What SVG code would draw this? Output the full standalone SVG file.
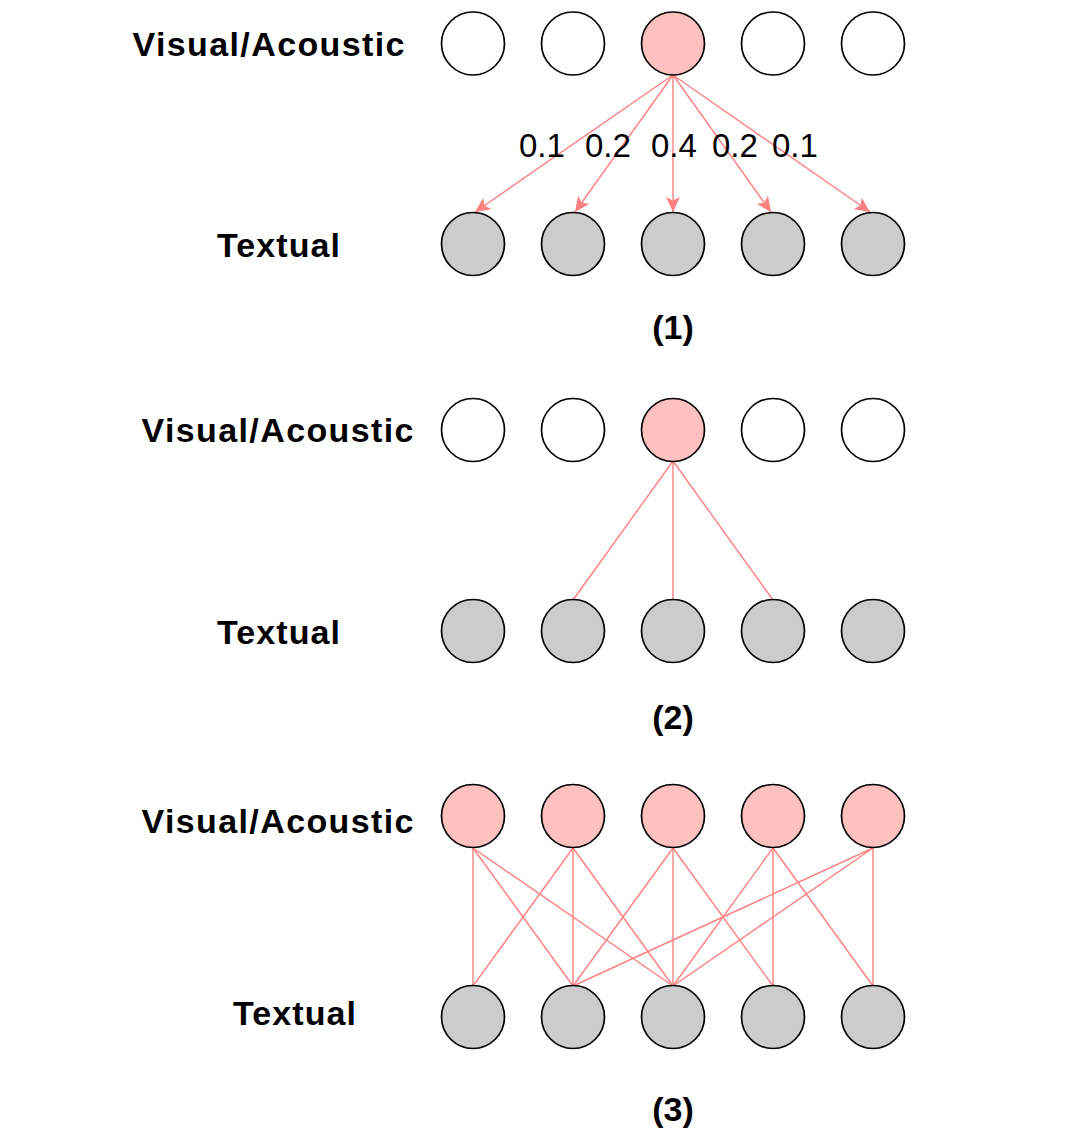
<svg xmlns="http://www.w3.org/2000/svg" width="1068" height="1144" viewBox="0 0 1068 1144">
<style>
.v{fill:#ffffff;stroke:#000;stroke-width:1.7}
.p{fill:#ffc0c0;stroke:#000;stroke-width:1.7}
.t{fill:#cccccc;stroke:#000;stroke-width:1.7}
.e{stroke:#ff8080;stroke-width:1.4;fill:none}
.lbl{font-family:"Liberation Sans",Arial,sans-serif;font-weight:bold;font-size:34px;fill:#000}
.w{font-family:"Liberation Sans",Arial,sans-serif;font-size:33px;fill:#000}
</style>
<defs>
<marker id="ah" markerUnits="userSpaceOnUse" markerWidth="16" markerHeight="14" viewBox="0 0 16 14" refX="15" refY="7" orient="auto">
<path d="M0,0 L15,7 L0,14 L3.5,7 Z" fill="#ff8080"/>
</marker>
</defs>
<rect width="1068" height="1144" fill="#fff"/>

<g id="connectors">
<g id="edges-1">
<line class="e" x1="673" y1="75" x2="475" y2="212" marker-end="url(#ah)"/>
<line class="e" x1="673" y1="75" x2="575" y2="212" marker-end="url(#ah)"/>
<line class="e" x1="673" y1="75" x2="673" y2="212" marker-end="url(#ah)"/>
<line class="e" x1="673" y1="75" x2="771" y2="212" marker-end="url(#ah)"/>
<line class="e" x1="673" y1="75" x2="870" y2="212" marker-end="url(#ah)"/>
</g>
<g id="edges-2">
<line class="e" x1="673" y1="461" x2="573" y2="600"/>
<line class="e" x1="673" y1="461" x2="673" y2="600"/>
<line class="e" x1="673" y1="461" x2="773" y2="600"/>
</g>
<g id="edges-3">
<line class="e" x1="473" y1="848" x2="473" y2="986"/>
<line class="e" x1="473" y1="848" x2="573" y2="986"/>
<line class="e" x1="473" y1="848" x2="673" y2="986"/>
<line class="e" x1="573" y1="848" x2="473" y2="986"/>
<line class="e" x1="573" y1="848" x2="573" y2="986"/>
<line class="e" x1="573" y1="848" x2="673" y2="986"/>
<line class="e" x1="673" y1="848" x2="573" y2="986"/>
<line class="e" x1="673" y1="848" x2="673" y2="986"/>
<line class="e" x1="673" y1="848" x2="773" y2="986"/>
<line class="e" x1="773" y1="848" x2="673" y2="986"/>
<line class="e" x1="773" y1="848" x2="773" y2="986"/>
<line class="e" x1="773" y1="848" x2="873" y2="986"/>
<line class="e" x1="873" y1="848" x2="573" y2="986"/>
<line class="e" x1="873" y1="848" x2="673" y2="986"/>
<line class="e" x1="873" y1="848" x2="873" y2="986"/>
</g>
</g>

<g id="weights">
<text class="w" x="519" y="157">0.1</text>
<text class="w" x="585" y="157">0.2</text>
<text class="w" x="651" y="157">0.4</text>
<text class="w" x="712" y="157">0.2</text>
<text class="w" x="772" y="157">0.1</text>
</g>

<g id="panel-1">
<g id="va-label-1"><text class="lbl" x="268.5" y="56" text-anchor="middle" textLength="272" lengthAdjust="spacing">Visual/Acoustic</text></g>
<g id="t-label-1"><text class="lbl" x="278.5" y="257" text-anchor="middle" textLength="123" lengthAdjust="spacing">Textual</text></g>
<g id="v1-1"><circle class="v" cx="473" cy="43.5" r="31.5"/></g>
<g id="v1-2"><circle class="v" cx="573" cy="43.5" r="31.5"/></g>
<g id="v1-3"><circle class="p" cx="673" cy="43.5" r="31.5"/></g>
<g id="v1-4"><circle class="v" cx="773" cy="43.5" r="31.5"/></g>
<g id="v1-5"><circle class="v" cx="873" cy="43.5" r="31.5"/></g>
<g id="t1-1"><circle class="t" cx="473" cy="244" r="31.5"/></g>
<g id="t1-2"><circle class="t" cx="573" cy="244" r="31.5"/></g>
<g id="t1-3"><circle class="t" cx="673" cy="244" r="31.5"/></g>
<g id="t1-4"><circle class="t" cx="773" cy="244" r="31.5"/></g>
<g id="t1-5"><circle class="t" cx="873" cy="244" r="31.5"/></g>
<g id="cap-1"><text class="lbl" x="673" y="339" text-anchor="middle">(1)</text></g>
</g>

<g id="panel-2">
<g id="va-label-2"><text class="lbl" x="277.5" y="442" text-anchor="middle" textLength="272" lengthAdjust="spacing">Visual/Acoustic</text></g>
<g id="t-label-2"><text class="lbl" x="278.5" y="644" text-anchor="middle" textLength="123" lengthAdjust="spacing">Textual</text></g>
<g id="v2-1"><circle class="v" cx="473" cy="430" r="31.5"/></g>
<g id="v2-2"><circle class="v" cx="573" cy="430" r="31.5"/></g>
<g id="v2-3"><circle class="p" cx="673" cy="430" r="31.5"/></g>
<g id="v2-4"><circle class="v" cx="773" cy="430" r="31.5"/></g>
<g id="v2-5"><circle class="v" cx="873" cy="430" r="31.5"/></g>
<g id="t2-1"><circle class="t" cx="473" cy="631" r="31.5"/></g>
<g id="t2-2"><circle class="t" cx="573" cy="631" r="31.5"/></g>
<g id="t2-3"><circle class="t" cx="673" cy="631" r="31.5"/></g>
<g id="t2-4"><circle class="t" cx="773" cy="631" r="31.5"/></g>
<g id="t2-5"><circle class="t" cx="873" cy="631" r="31.5"/></g>
<g id="cap-2"><text class="lbl" x="673" y="729" text-anchor="middle">(2)</text></g>
</g>

<g id="panel-3">
<g id="va-label-3"><text class="lbl" x="277.5" y="833" text-anchor="middle" textLength="272" lengthAdjust="spacing">Visual/Acoustic</text></g>
<g id="t-label-3"><text class="lbl" x="294.5" y="1025" text-anchor="middle" textLength="123" lengthAdjust="spacing">Textual</text></g>
<g id="v3-1"><circle class="p" cx="473" cy="816" r="31.5"/></g>
<g id="v3-2"><circle class="p" cx="573" cy="816" r="31.5"/></g>
<g id="v3-3"><circle class="p" cx="673" cy="816" r="31.5"/></g>
<g id="v3-4"><circle class="p" cx="773" cy="816" r="31.5"/></g>
<g id="v3-5"><circle class="p" cx="873" cy="816" r="31.5"/></g>
<g id="t3-1"><circle class="t" cx="473" cy="1017" r="31.5"/></g>
<g id="t3-2"><circle class="t" cx="573" cy="1017" r="31.5"/></g>
<g id="t3-3"><circle class="t" cx="673" cy="1017" r="31.5"/></g>
<g id="t3-4"><circle class="t" cx="773" cy="1017" r="31.5"/></g>
<g id="t3-5"><circle class="t" cx="873" cy="1017" r="31.5"/></g>
<g id="cap-3"><text class="lbl" x="673" y="1121" text-anchor="middle">(3)</text></g>
</g>
</svg>
